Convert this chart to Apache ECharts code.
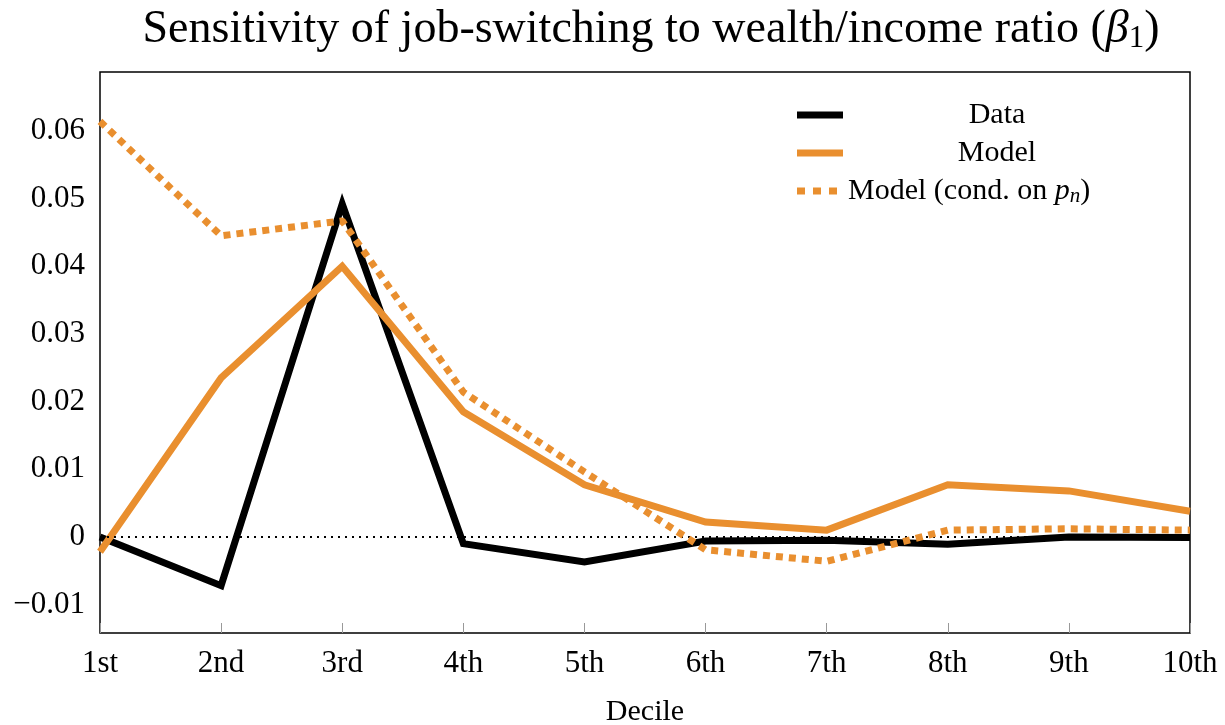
<!DOCTYPE html>
<html>
<head>
<meta charset="utf-8">
<script src="https://cdn.jsdelivr.net/npm/echarts@6/dist/echarts.min.js"></script>
<style>
  html, body { margin: 0; padding: 0; background: #fff; }
  #chart { width: 1225px; height: 725px; }
</style>
</head>
<body>
<div id="chart"></div>
<script>
const deciles = ['1st', '2nd', '3rd', '4th', '5th', '6th', '7th', '8th', '9th', '10th']
const dataValues = [0.0, -0.0072, 0.0492, -0.0010, -0.0037, -0.0006, -0.0005, -0.0011, 0.0, -0.0001]
const modelValues = [-0.0022, 0.0235, 0.0400, 0.0185, 0.0077, 0.0022, 0.0010, 0.0077, 0.0068, 0.0038]
const modelCondValues = [0.0614, 0.0445, 0.0467, 0.0214, 0.0096, -0.0019, -0.0036, 0.0010, 0.0012, 0.0010]
const yTicks = [-0.01, 0, 0.01, 0.02, 0.03, 0.04, 0.05, 0.06]

const orange = '#E98F2F'
const font = 'Liberation Serif'

const chart = echarts.init(document.getElementById('chart'))

const fmtY = (v) => {
  if (Math.abs(v) < 1e-9) return '0'
  return v.toFixed(2).replace('-', '\u2212')
}

chart.setOption({
  animation: false,
  textStyle: { fontFamily: font },
  title: {
    text: 'Sensitivity of job-switching to wealth/income ratio ({i|β}{s|1})',
    left: 646,
    textAlign: 'center',
    top: 1,
    textStyle: {
      fontFamily: font,
      fontSize: 46,
      fontWeight: 'normal',
      color: '#000',
      rich: {
        i: { fontFamily: font, fontSize: 46, fontStyle: 'italic', color: '#000' },
        s: { fontFamily: font, fontSize: 31, color: '#000', padding: [17, 0, 0, 0] }
      }
    }
  },
  legend: {
    orient: 'vertical',
    left: 792,
    top: 95,
    itemWidth: 46,
    itemHeight: 7,
    itemGap: 8,
    selectedMode: false,
    formatter: (name) => {
      if (name === 'cond') return '{t|Model (cond. on }{i|p}{s|n}{t|)}'
      return '{c|' + name + '}'
    },
    textStyle: {
      fontFamily: font,
      fontSize: 30,
      color: '#000',
      rich: {
        c: { fontFamily: font, fontSize: 30, color: '#000', width: 298, align: 'center' },
        t: { fontFamily: font, fontSize: 30, color: '#000' },
        i: { fontFamily: font, fontSize: 30, color: '#000', fontStyle: 'italic' },
        s: { fontFamily: font, fontSize: 21, color: '#000', fontStyle: 'italic', padding: [11, 0, 0, 0] }
      }
    },
    data: [
      { name: 'Data', icon: 'rect' },
      { name: 'Model', icon: 'rect' },
      { name: 'cond', icon: 'path://M0,0h8v7h-8z M16,0h8v7h-8z M32,0h8v7h-8z M46,0h0v7h0z' }
    ]
  },
  grid: {
    left: 100,
    right: 35,
    top: 72,
    bottom: 92,
    outerBoundsMode: 'none',
    show: true,
    borderColor: '#000',
    borderWidth: 1.5
  },
  xAxis: {
    type: 'category',
    data: deciles,
    boundaryGap: false,
    name: 'Decile',
    nameLocation: 'middle',
    nameGap: 64,
    nameTextStyle: { fontFamily: font, fontSize: 30, color: '#000' },
    axisLine: { show: false, onZero: false },
    axisTick: { inside: true, length: 10, lineStyle: { color: '#999', width: 1 } },
    axisLabel: { margin: 15, fontFamily: font, fontSize: 31, color: '#000' },
    splitLine: { show: false }
  },
  yAxis: {
    type: 'value',
    min: -0.0142,
    max: 0.0687,
    axisLine: { show: false },
    axisTick: { inside: true, length: 10, customValues: yTicks, lineStyle: { color: '#999', width: 1 } },
    axisLabel: {
      customValues: yTicks,
      margin: 15,
      fontFamily: font,
      fontSize: 31,
      color: '#000',
      formatter: fmtY
    },
    splitLine: { show: false }
  },
  series: [
    {
      name: 'Data',
      type: 'line',
      data: dataValues,
      symbol: 'none',
      lineStyle: { color: '#000', width: 7, join: 'miter' },
      itemStyle: { color: '#000' },
      z: 3,
      markLine: {
        silent: true,
        symbol: 'none',
        label: { show: false },
        lineStyle: { color: '#000', width: 2, type: [2, 5] },
        data: [{ yAxis: 0 }]
      }
    },
    {
      name: 'Model',
      type: 'line',
      data: modelValues,
      symbol: 'none',
      lineStyle: { color: orange, width: 7, join: 'miter' },
      itemStyle: { color: orange },
      z: 4
    },
    {
      name: 'cond',
      type: 'line',
      data: modelCondValues,
      symbol: 'none',
      lineStyle: { color: orange, width: 7, type: [7, 6], cap: 'butt' },
      itemStyle: { color: orange },
      z: 5
    }
  ]
})
</script>
</body>
</html>
